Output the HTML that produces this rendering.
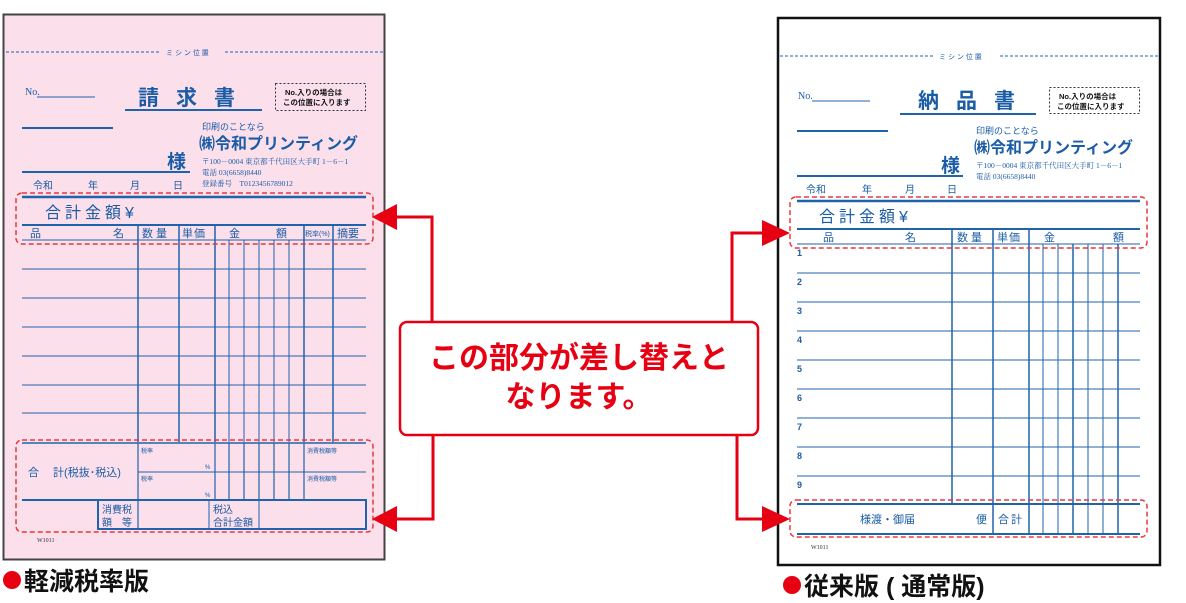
<!DOCTYPE html>
<html><head><meta charset="utf-8"><style>
html,body{margin:0;padding:0;background:#fff;width:1186px;height:603px;overflow:hidden}
svg{display:block}
text{font-family:"Liberation Sans","Noto Sans CJK JP",sans-serif}
.s{font-family:"Liberation Serif","Noto Serif CJK SC",serif}
</style></head><body>
<svg width="1186" height="603" viewBox="0 0 1186 603" xmlns="http://www.w3.org/2000/svg">
<!-- LEFT FORM -->
<rect x="3.5" y="14.5" width="381" height="545" fill="#fbdfeb" stroke="#444" stroke-width="2"/>
<g stroke="#1f63ad" fill="none">
<line x1="6" y1="52" x2="160" y2="52" stroke-dasharray="3,2" stroke-width="1"/>
<line x1="225" y1="52" x2="383" y2="52" stroke-dasharray="3,2" stroke-width="1"/>
<line x1="37" y1="97" x2="95" y2="97"/>
<line x1="125" y1="110" x2="262" y2="110" stroke-width="2"/>
<line x1="22" y1="128" x2="113" y2="128" stroke-width="2"/>
<line x1="22" y1="172" x2="190" y2="172" stroke-width="2"/>
<line x1="22" y1="197" x2="366" y2="197" stroke-width="2.5"/>
<line x1="22" y1="225" x2="366" y2="225" stroke-width="2"/>
<line x1="22" y1="240" x2="366" y2="240"/>
<line x1="22" y1="269" x2="366" y2="269"/>
<line x1="22" y1="298" x2="366" y2="298"/>
<line x1="22" y1="327" x2="366" y2="327"/>
<line x1="22" y1="356" x2="366" y2="356"/>
<line x1="22" y1="385" x2="366" y2="385"/>
<line x1="22" y1="413" x2="366" y2="413"/>
<path d="M138 225V442M179 225V442M215 225V442M304 225V442M333 225V442" stroke-width="1.5"/>
<path d="M229 240V442M244 240V442M259 240V442M274 240V442M289 240V442"/>
<line x1="22" y1="443" x2="366" y2="443" stroke-width="1.5"/>
<line x1="138" y1="472" x2="366" y2="472"/>
<path d="M138 443V529M215 443V500M229 443V500M244 443V500M259 443V500M274 443V500M289 443V500M304 443V500" stroke-width="1.2"/>
<line x1="22" y1="500" x2="366" y2="500" stroke-width="2"/>
<rect x="98" y="500" width="268" height="29" stroke-width="2"/>
<path d="M209 500V529M259 500V529"/>
</g>
<rect x="275.5" y="83.5" width="90" height="27" fill="none" stroke="#333" stroke-dasharray="2,2"/>
<g fill="#1a5ca6">
<text x="166" y="55" font-size="7">ミ シ ン 位 置</text>
<text x="25" y="95" font-size="10" class="s">No.</text>
<text x="138" y="105" font-size="21" letter-spacing="17" font-weight="bold">請求書</text>
<text x="167" y="168" font-size="19" font-weight="bold">様</text>
<text x="33" y="189" font-size="10">令和</text><text x="88" y="189" font-size="10">年</text><text x="130" y="189" font-size="10">月</text><text x="173" y="189" font-size="10">日</text>
<text x="202" y="130" font-size="9">印刷のことなら</text>
<text x="199" y="149" font-size="16" font-weight="bold">㈱令和プリンティング</text>
<text x="202" y="164" font-size="7.5" class="s">〒100－0004 東京都千代田区大手町 1－6－1</text>
<text x="202" y="175" font-size="7.5" class="s">電話 03(6658)8440</text>
<text x="202" y="186" font-size="7.5" class="s">登録番号　T0123456789012</text>
<text x="45" y="218" font-size="16" letter-spacing="4">合計金額¥</text>
<text x="30" y="237" font-size="11">品</text><text x="113" y="237" font-size="11">名</text>
<text x="142" y="237" font-size="11" letter-spacing="3">数量</text><text x="182" y="237" font-size="11" letter-spacing="1">単価</text>
<text x="229" y="237" font-size="11">金</text><text x="276" y="237" font-size="11">額</text>
<text x="305" y="236" font-size="7">税率(%)</text><text x="337" y="237" font-size="11">摘要</text>
<text x="28" y="476" font-size="11">合　 計(税抜･税込)</text>
<text x="141" y="453" font-size="6">税率</text><text x="205" y="469" font-size="6">%</text>
<text x="141" y="481" font-size="6">税率</text><text x="205" y="497" font-size="6">%</text>
<text x="307" y="453" font-size="6">消費税額等</text><text x="307" y="481" font-size="6">消費税額等</text>
<text x="102" y="513" font-size="10">消費税</text><text x="102" y="526" font-size="10">額　等</text>
<text x="213" y="513" font-size="10">税込</text><text x="213" y="526" font-size="10">合計金額</text>
</g>
<text x="37" y="542" font-size="6" fill="#333" class="s">W1011</text>
<text x="285" y="95" font-size="7.5" fill="#111" font-weight="bold">No.入りの場合は</text>
<text x="283" y="105" font-size="7.5" fill="#111" font-weight="bold">この位置に入ります</text>
<rect x="16" y="193" width="357" height="51" rx="6" fill="none" stroke="#e8383d" stroke-width="1.5" stroke-dasharray="5,3"/>
<rect x="16" y="440" width="357" height="92" rx="6" fill="none" stroke="#e8383d" stroke-width="1.5" stroke-dasharray="5,3"/>
<circle cx="12" cy="580" r="9" fill="#e60012"/>
<text x="24" y="590" font-size="25" font-weight="bold" fill="#111">軽減税率版</text>

<!-- RIGHT FORM -->
<rect x="778" y="18" width="382" height="547" fill="#fff" stroke="#111" stroke-width="2.5"/>
<g stroke="#1f63ad" fill="none">
<line x1="780" y1="56" x2="935" y2="56" stroke-dasharray="3,2"/>
<line x1="1000" y1="56" x2="1158" y2="56" stroke-dasharray="3,2"/>
<line x1="812" y1="101" x2="870" y2="101"/>
<line x1="900" y1="114" x2="1036" y2="114" stroke-width="2"/>
<line x1="797" y1="131" x2="888" y2="131" stroke-width="2"/>
<line x1="797" y1="176" x2="963" y2="176" stroke-width="2"/>
<line x1="797" y1="201" x2="1140" y2="201" stroke-width="2.5"/>
<line x1="797" y1="229" x2="1140" y2="229" stroke-width="2"/>
<line x1="797" y1="244" x2="1140" y2="244"/>
<path d="M797 273H1140M797 302H1140M797 331H1140M797 360H1140M797 389H1140M797 418H1140M797 447H1140M797 476H1140"/>
<path d="M952 229V504M993 229V534M1029 229V534M1073 244V534M1118 244V534" stroke-width="1.5"/>
<path d="M1043 244V534M1058 244V534M1088 244V534M1103 244V534"/>
<line x1="797" y1="504" x2="1140" y2="504" stroke-width="2"/>
<line x1="797" y1="534" x2="1140" y2="534" stroke-width="2"/>
</g>
<rect x="1049.5" y="87.5" width="90" height="26" fill="none" stroke="#333" stroke-dasharray="2,2"/>
<g fill="#1a5ca6">
<text x="939" y="59" font-size="7">ミ シ ン 位 置</text>
<text x="798" y="99" font-size="10" class="s">No.</text>
<text x="918" y="108" font-size="21" letter-spacing="17" font-weight="bold">納品書</text>
<text x="941" y="172" font-size="19" font-weight="bold">様</text>
<text x="806" y="193" font-size="10">令和</text><text x="862" y="193" font-size="10">年</text><text x="905" y="193" font-size="10">月</text><text x="947" y="193" font-size="10">日</text>
<text x="976" y="134" font-size="9">印刷のことなら</text>
<text x="974" y="153" font-size="16" font-weight="bold">㈱令和プリンティング</text>
<text x="976" y="168" font-size="7.5" class="s">〒100－0004 東京都千代田区大手町 1－6－1</text>
<text x="976" y="179" font-size="7.5" class="s">電話 03(6658)8440</text>
<text x="819" y="222" font-size="16" letter-spacing="4">合計金額¥</text>
<text x="823" y="241" font-size="11">品</text><text x="905" y="241" font-size="11">名</text>
<text x="957" y="241" font-size="11" letter-spacing="3">数量</text><text x="997" y="241" font-size="11" letter-spacing="1">単価</text>
<text x="1044" y="241" font-size="11">金</text><text x="1113" y="241" font-size="11">額</text>
<g font-size="9" class="s" font-weight="bold">
<text x="797" y="256">1</text><text x="797" y="285">2</text><text x="797" y="314">3</text><text x="797" y="343">4</text><text x="797" y="372">5</text><text x="797" y="401">6</text><text x="797" y="430">7</text><text x="797" y="459">8</text><text x="797" y="488">9</text>
</g>
<text x="860" y="523" font-size="11">様渡・御届</text><text x="976" y="523" font-size="11">便</text><text x="998" y="523" font-size="11" letter-spacing="2">合計</text>
</g>
<text x="811" y="549" font-size="6" fill="#333" class="s">W1011</text>
<text x="1059" y="99" font-size="7.5" fill="#111" font-weight="bold">No.入りの場合は</text>
<text x="1057" y="109" font-size="7.5" fill="#111" font-weight="bold">この位置に入ります</text>
<rect x="790" y="197" width="357" height="51" rx="6" fill="none" stroke="#e8383d" stroke-width="1.5" stroke-dasharray="5,3"/>
<rect x="790" y="500" width="357" height="37" rx="6" fill="none" stroke="#e8383d" stroke-width="1.5" stroke-dasharray="5,3"/>
<circle cx="792" cy="585" r="9" fill="#e60012"/>
<text x="804" y="595" font-size="25" font-weight="bold" fill="#111">従来版 ( 通常版)</text>

<!-- CONNECTORS -->
<g stroke="#e60012" stroke-width="3" fill="none">
<path d="M432 322V217H395"/>
<path d="M433 435V519H395"/>
<path d="M732 322V233H765"/>
<path d="M737 435V519H765"/>
</g>
<g fill="#e60012">
<polygon points="372,217 397,204 397,230"/>
<polygon points="372,519 397,506 397,532"/>
<polygon points="790,233 762,220 762,246"/>
<polygon points="790,519 762,506 762,532"/>
</g>
<rect x="400" y="322" width="358" height="113" rx="7" fill="#fff" stroke="#e60012" stroke-width="2.5"/>
<text x="579" y="368" font-size="30" font-weight="bold" fill="#e60012" text-anchor="middle">この部分が差し替えと</text>
<text x="579" y="407" font-size="30" font-weight="bold" fill="#e60012" text-anchor="middle">なります。</text>
</svg>
</body></html>
